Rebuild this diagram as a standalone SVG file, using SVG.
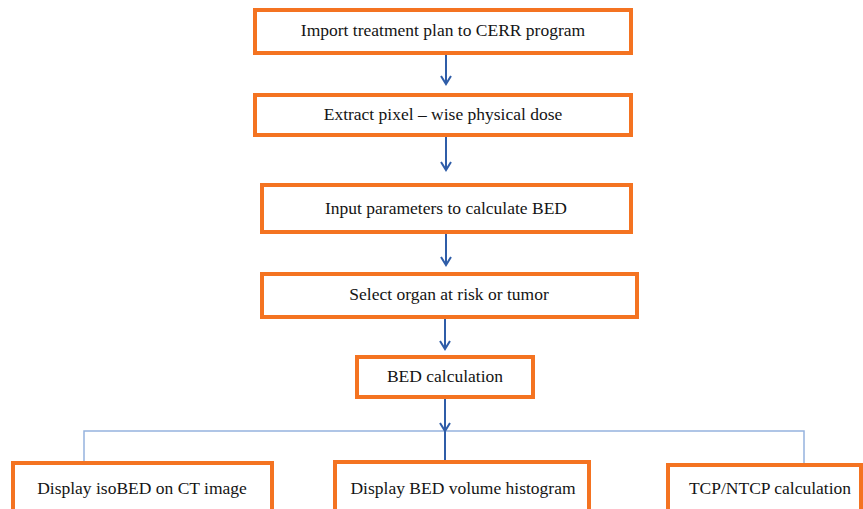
<svg xmlns="http://www.w3.org/2000/svg" width="863" height="509" viewBox="0 0 863 509">
<style>
.box{fill:#fff;stroke:#F47321;stroke-width:4}
.lbl{font-family:'Liberation Serif','Times New Roman',serif;font-size:17.5px;fill:#141414;text-anchor:middle}
.arr{stroke:#2F5DA8;stroke-width:2;fill:none}
.bus{stroke:#95B3DE;stroke-width:1.5;fill:none}
</style>
<defs>
<marker id="v" viewBox="0 0 12 12" refX="10" refY="6" markerWidth="12" markerHeight="12" markerUnits="userSpaceOnUse" orient="auto">
<path d="M2,1 L10,6 L2,11" fill="none" stroke="#2F5DA8" stroke-width="2"/>
</marker>
</defs>
<rect width="863" height="509" fill="#fff"/>
<g id="connectors">
<line class="arr" x1="446" y1="53" x2="446" y2="84" marker-end="url(#v)"/>
<line class="arr" x1="446" y1="135" x2="446" y2="170" marker-end="url(#v)"/>
<line class="arr" x1="446" y1="232" x2="446" y2="265" marker-end="url(#v)"/>
<line class="arr" x1="445" y1="317" x2="445" y2="349" marker-end="url(#v)"/>
<polyline class="bus" points="84,462 84,431 804,431 804,463"/>
<line class="arr" x1="445" y1="397" x2="445" y2="431" marker-end="url(#v)"/>
<line class="arr" x1="445" y1="431" x2="445" y2="462"/>
</g>
<g id="n1"><rect class="box" x="255" y="10" width="376" height="43"/><text class="lbl" x="443" y="36">Import treatment plan to CERR program</text></g>
<g id="n2"><rect class="box" x="255" y="95" width="376" height="40"/><text class="lbl" x="443" y="120">Extract pixel – wise physical dose</text></g>
<g id="n3"><rect class="box" x="262" y="185" width="369" height="47"/><text class="lbl" x="446" y="214">Input parameters to calculate BED</text></g>
<g id="n4"><rect class="box" x="262" y="274" width="375" height="43"/><text class="lbl" x="449" y="300">Select organ at risk or tumor</text></g>
<g id="n5"><rect class="box" x="357" y="357" width="176" height="40"/><text class="lbl" x="445" y="382">BED calculation</text></g>
<g id="n6"><rect class="box" x="13" y="463" width="259" height="50"/><text class="lbl" x="142" y="494">Display isoBED on CT image</text></g>
<g id="n7"><rect class="box" x="335" y="462" width="254" height="51"/><text class="lbl" x="463" y="494">Display BED volume histogram</text></g>
<g id="n8"><rect class="box" x="668" y="465" width="193" height="48"/><text class="lbl" x="770" y="494">TCP/NTCP calculation</text></g>
</svg>
